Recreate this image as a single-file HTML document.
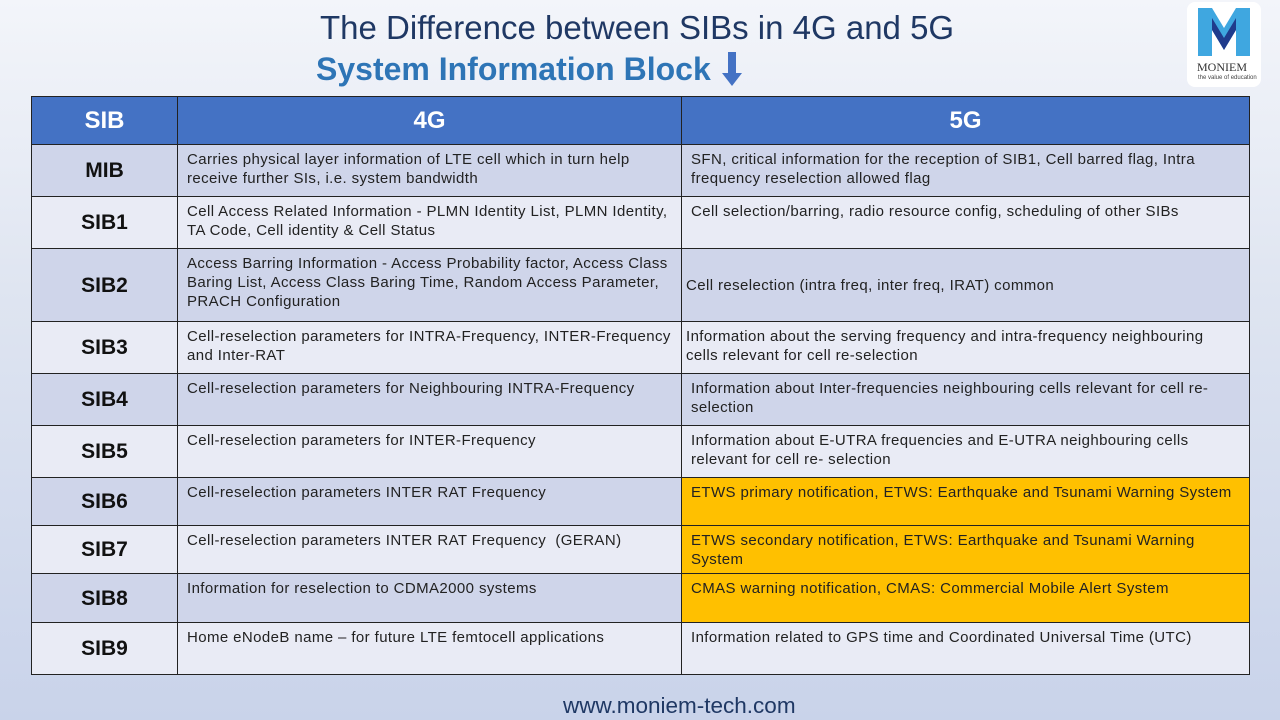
<!DOCTYPE html><html><head><style>
body{margin:0;width:1280px;height:720px;overflow:hidden;background:linear-gradient(180deg,#f3f5fa 0%,#dfe5f1 40%,#c9d3ea 100%);font-family:"Liberation Sans","DejaVu Sans",sans-serif;position:relative}
.t{position:absolute;white-space:nowrap}
table{position:absolute;left:31px;top:96px;border-collapse:collapse;width:1219px;table-layout:fixed}
td{border:1.5px solid #222;font-size:15px;letter-spacing:0.4px;color:#222;vertical-align:top;padding:5px 5px 0 9px;line-height:19px}
td.s{font-weight:bold;font-size:21px;letter-spacing:0;text-align:center;vertical-align:middle;padding:0;color:#111}
tr.h td{background:#4472c4;color:#fff;font-size:24px;letter-spacing:0;text-align:center;vertical-align:middle;padding:0;border-color:#222}
tr.a td{background:#cfd5ea}tr.b td{background:#e9ebf5}
td.y{background:#ffc000!important}
td.m{vertical-align:middle;padding-top:0;padding-left:4px}
</style></head><body>
<div class="t" style="left:320px;top:9px;font-size:33px;color:#1f3864">The Difference between SIBs in 4G and 5G</div>
<div class="t" style="left:316px;top:51px;font-size:32px;color:#2e75b6;font-weight:bold">System Information Block</div>
<svg style="position:absolute;left:721px;top:52px" width="22" height="36"><rect x="7" y="0" width="8" height="22" fill="#4472c4"/><polygon points="1,21 21,21 11,34" fill="#4472c4"/></svg>
<div style="position:absolute;left:1187px;top:2px;width:74px;height:85px;background:#fff;border-radius:8px"></div>
<svg style="position:absolute;left:1198px;top:8px" width="52" height="48"><polygon points="0,0 14,0 26,20 38,0 52,0 52,48 38,48 38,22 26,42 14,22 14,48 0,48" fill="#3fa7e0"/><polygon points="14,22 26,42 38,22 38,10 26,30 14,10" fill="#1f3b8c"/></svg>
<div class="t" style="left:1197px;top:60px;font-size:12px;font-family:'Liberation Serif',serif;color:#333">MONIEM</div>
<div class="t" style="left:1198px;top:75px;font-size:6px;color:#444">the value of education</div>
<table>
<colgroup><col style="width:146px"><col style="width:504px"><col></colgroup>
<tr class="h" style="height:48px"><td><b>SIB</b></td><td><b>4G</b></td><td><b>5G</b></td></tr>
<tr class="a" style="height:52px"><td class="s">MIB</td><td>Carries physical layer information of LTE cell which in turn help receive further SIs, i.e. system bandwidth</td><td>SFN, critical information for the reception of SIB1, Cell barred flag, Intra frequency reselection allowed flag</td></tr>
<tr class="b" style="height:52px"><td class="s">SIB1</td><td>Cell Access Related Information - PLMN Identity List, PLMN Identity, TA Code, Cell identity &amp; Cell Status</td><td>Cell selection/barring, radio resource config, scheduling of other SIBs</td></tr>
<tr class="a" style="height:73px"><td class="s">SIB2</td><td>Access Barring Information - Access Probability factor, Access Class Baring List, Access Class Baring Time, Random Access Parameter, PRACH Configuration</td><td class="m">Cell reselection (intra freq, inter freq, IRAT) common</td></tr>
<tr class="b" style="height:52px"><td class="s">SIB3</td><td>Cell-reselection parameters for INTRA-Frequency, INTER-Frequency and Inter-RAT</td><td style="padding-left:4px">Information about the serving frequency and intra-frequency neighbouring<br>cells relevant for cell re-selection</td></tr>
<tr class="a" style="height:52px"><td class="s">SIB4</td><td>Cell-reselection parameters for Neighbouring INTRA-Frequency</td><td>Information about Inter-frequencies neighbouring cells relevant for cell re-selection</td></tr>
<tr class="b" style="height:52px"><td class="s">SIB5</td><td>Cell-reselection parameters for INTER-Frequency</td><td>Information about E-UTRA frequencies and E-UTRA neighbouring cells relevant for cell re- selection</td></tr>
<tr class="a" style="height:48px"><td class="s">SIB6</td><td>Cell-reselection parameters INTER RAT Frequency</td><td class="y">ETWS primary notification, ETWS: Earthquake and Tsunami Warning System</td></tr>
<tr class="b" style="height:48px"><td class="s">SIB7</td><td>Cell-reselection parameters INTER RAT Frequency &nbsp;(GERAN)</td><td class="y">ETWS secondary notification, ETWS: Earthquake and Tsunami Warning System</td></tr>
<tr class="a" style="height:49px"><td class="s">SIB8</td><td>Information for reselection to CDMA2000 systems</td><td class="y">CMAS warning notification, CMAS: Commercial Mobile Alert System</td></tr>
<tr class="b" style="height:52px"><td class="s">SIB9</td><td>Home eNodeB name – for future LTE femtocell applications</td><td>Information related to GPS time and Coordinated Universal Time (UTC)</td></tr>
</table>
<div class="t" style="left:563px;top:693px;font-size:22.5px;color:#1f3864">www.moniem-tech.com</div>
</body></html>
